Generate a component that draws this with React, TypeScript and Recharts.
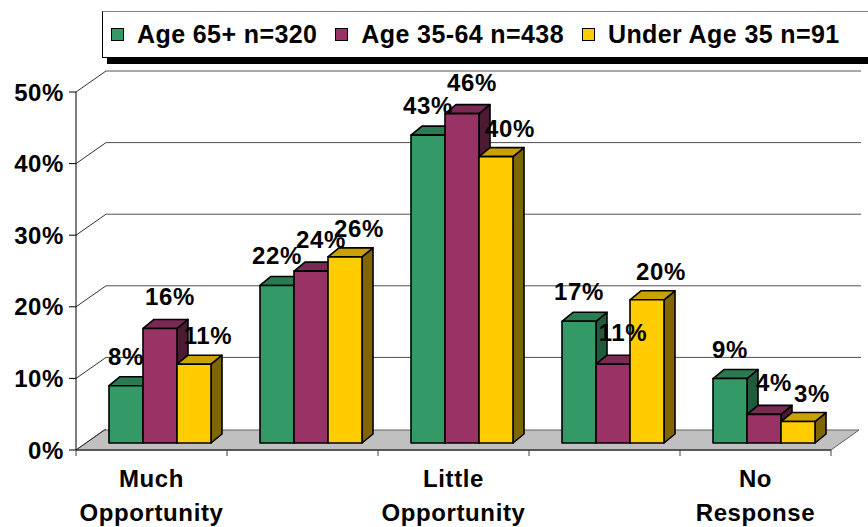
import { BarChart, Bar, XAxis, YAxis, CartesianGrid, LabelList } from "recharts";

const categories = ["Much Opportunity", "", "Little Opportunity", "", "No Response"];
const age65plus = [8, 22, 43, 17, 9];
const age35to64 = [16, 24, 46, 11, 4];
const under35 = [11, 26, 40, 20, 3];
const yTicks = [0, 10, 20, 30, 40, 50];

const series = [
  { key: "age65", name: "Age 65+ n=320", values: age65plus, front: "#339966", top: "#2a7a52", side: "#1f5c3d", labelDx: 0, labelDy: -21 },
  { key: "age35", name: "Age 35-64 n=438", values: age35to64, front: "#993366", top: "#7a2952", side: "#4d1a33", labelDx: 10, labelDy: -23 },
  { key: "under35", name: "Under Age 35 n=91", values: under35, front: "#ffcc00", top: "#c9a200", side: "#806600", labelDx: 14, labelDy: -20 },
];

const rows = categories.map((category, i) => {
  const row: Record<string, string | number> = { category };
  series.forEach((s) => (row[s.key] = s.values[i]));
  return row;
});

const W = 868;
const H = 527;
const MARGIN = { top: 92, right: 37, bottom: 7, left: 0 };
const Y_AXIS_W = 76;
const X_AXIS_H = 70;
const PLOT_BOTTOM = H - MARGIN.bottom - X_AXIS_H;
const PLOT_W = W - MARGIN.left - MARGIN.right - Y_AXIS_W;
const BAND = PLOT_W / categories.length;

// fake 3D: bars sit a little behind the front plane, walls further back
const SHIFT = { x: 8, y: -7 };
const DEPTH = { x: 11, y: -9 };
const WALL = { x: 30, y: -21 };

const FONT = '"Liberation Sans", Arial, Helvetica, sans-serif';
const textStyle = { fontFamily: FONT, fontWeight: 700, fontSize: 24, fill: "#000", letterSpacing: 0.6 };

function Box3D(props: any) {
  const { x, y, width: w, height: h, colors } = props;
  if (!w || h == null) return null;
  const fx = x + SHIFT.x;
  const fy = y + SHIFT.y;
  const stroke = { stroke: "#000", strokeWidth: 1.6, strokeLinejoin: "round" as const };
  return (
    <g>
      <polygon
        points={`${fx + w},${fy} ${fx + w + DEPTH.x},${fy + DEPTH.y} ${fx + w + DEPTH.x},${fy + h + DEPTH.y} ${fx + w},${fy + h}`}
        fill={colors.side}
        {...stroke}
      />
      <polygon
        points={`${fx},${fy} ${fx + DEPTH.x},${fy + DEPTH.y} ${fx + w + DEPTH.x},${fy + DEPTH.y} ${fx + w},${fy}`}
        fill={colors.top}
        {...stroke}
      />
      <rect x={fx} y={fy} width={w} height={h} fill={colors.front} {...stroke} />
    </g>
  );
}

function gridLine(p: any) {
  const { x1, x2, y1 } = p;
  const by = y1 + WALL.y;
  const isFloor = Math.abs(y1 - PLOT_BOTTOM) < 0.5;
  return (
    <g key={p.key ?? `h-${y1}`}>
      {isFloor && (
        <polygon
          points={`${x1},${y1} ${x2},${y1} ${x2 + WALL.x - 2},${by + 1} ${x1 + WALL.x - 2},${by + 1}`}
          fill="#c0c0c0"
          stroke="#606060"
          strokeWidth={1}
        />
      )}
      <line x1={x1} y1={y1} x2={x1 + WALL.x} y2={by} stroke="#303030" strokeWidth={1} />
      {!isFloor && <line x1={x1 + WALL.x} y1={by} x2={x2 + WALL.x} y2={by} stroke="#505050" strokeWidth={1} />}
    </g>
  );
}

function CategoryTick(props: any) {
  const { x, payload, index } = props;
  const words = String(payload.value).split(" ").filter(Boolean);
  const left = x - BAND / 2;
  return (
    <g>
      <line x1={left} y1={PLOT_BOTTOM} x2={left} y2={PLOT_BOTTOM + 6} stroke="#404040" />
      {index === categories.length - 1 && (
        <line x1={x + BAND / 2} y1={PLOT_BOTTOM} x2={x + BAND / 2} y2={PLOT_BOTTOM + 6} stroke="#404040" />
      )}
      {words.map((wd, i) => (
        <text key={i} x={x} y={PLOT_BOTTOM + 37 + i * 34} textAnchor="middle" style={textStyle}>
          {wd}
        </text>
      ))}
    </g>
  );
}

const valueLabel = (dx: number, dy: number) => (p: any) => {
  const { x, y, width, value } = p;
  return (
    <text x={x + SHIFT.x + width / 2 + dx} y={y + SHIFT.y + dy} textAnchor="middle" style={textStyle}>
      {`${value}%`}
    </text>
  );
};

function ChartLegend() {
  return (
    <div
      style={{
        position: "absolute",
        left: 102,
        top: 11,
        width: 800,
        height: 45,
        border: "1px solid #000",
        borderTopColor: "#808080",
        background: "#fff",
        boxShadow: "5px 6px 0 #000",
        display: "flex",
        alignItems: "center",
        paddingLeft: 8,
        fontFamily: FONT,
        fontWeight: 700,
        fontSize: 25,
        letterSpacing: 0.4,
        whiteSpace: "nowrap",
      }}
    >
      {series.map((s) => (
        <div key={s.key} style={{ display: "flex", alignItems: "center", marginRight: 18 }}>
          <span
            style={{
              display: "inline-block",
              width: 11,
              height: 11,
              border: "1px solid #000",
              background: s.front,
              marginRight: 13,
            }}
          />
          <span>{s.name}</span>
        </div>
      ))}
    </div>
  );
}

export default function App() {
  return (
    <div style={{ position: "absolute", left: 0, top: 0, width: W, height: H, overflow: "hidden", background: "#fff" }}>
      <BarChart width={W} height={H} data={rows} margin={MARGIN} barCategoryGap={25} barGap={0}>
        <CartesianGrid vertical={false} horizontal={gridLine} />
        <XAxis
          dataKey="category"
          interval={0}
          height={X_AXIS_H}
          tickLine={false}
          axisLine={{ stroke: "#404040", strokeWidth: 1.5 }}
          tick={<CategoryTick />}
        />
        <YAxis
          width={Y_AXIS_W}
          domain={[0, 50]}
          ticks={yTicks}
          interval={0}
          tickFormatter={(v) => `${v}%`}
          axisLine={{ stroke: "#000" }}
          tickLine={{ stroke: "#000" }}
          tickSize={7}
          tickMargin={5}
          tick={textStyle}
        />
        {series.map((s) => (
          <Bar
            key={s.key}
            dataKey={s.key}
            name={s.name}
            fill={s.front}
            isAnimationActive={false}
            shape={(p: any) => <Box3D {...p} colors={s} />}
          >
            <LabelList dataKey={s.key} content={valueLabel(s.labelDx, s.labelDy)} />
          </Bar>
        ))}
      </BarChart>
      <ChartLegend />
    </div>
  );
}
